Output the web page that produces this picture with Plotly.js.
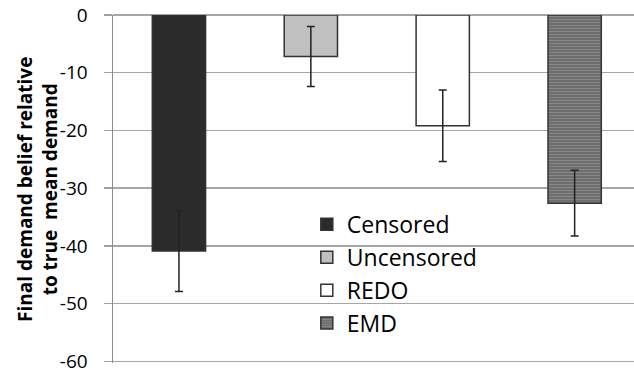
<!DOCTYPE html>
<html>
<head>
<meta charset="utf-8">
<script src="https://cdn.plot.ly/plotly-3.0.1.min.js"></script>
<style>html,body{margin:0;padding:0;background:#fff;overflow:hidden;}</style>
</head>
<body>
<div id="chart" style="width:634px;height:373px;"></div>
<script>
const categories = ["Censored", "Uncensored", "REDO", "EMD"];
const values = [-40.9, -7.2, -19.2, -32.6];
const errors = [7.0, 5.2, 6.2, 5.7];
const yTicks = [0, -10, -20, -30, -40, -50, -60];
const yTitle = "Final demand belief relative<br>to true  mean demand";

const fills = ["#2b2b2b", "#c0c0c0", "#ffffff", "#7c7c7c"];

const traces = categories.map((c, i) => {
  const t = {
    type: "bar",
    name: c,
    x: [i],
    y: [values[i]],
    width: 0.404,
    legendgroup: c,
    marker: {
      color: fills[i],
      line: {color: "#333333", width: 1.5}
    },
    error_y: {type: "data", array: [errors[i]], visible: true, color: "#222222", thickness: 1.5, width: 4}
  };
  if (c === "EMD") {
    t.marker.pattern = {shape: "-", fgcolor: "#a0a0a0", bgcolor: "#6e6e6e", size: 3, solidity: 0.35, fillmode: "overlay"};
  }
  return t;
});

const layout = {
  width: 634,
  height: 373,
  margin: {l: 113, r: 0, t: 15, b: 10},
  paper_bgcolor: "#ffffff",
  plot_bgcolor: "#ffffff",
  showlegend: true,
  barmode: "overlay",
  font: {family: "Open Sans, sans-serif", color: "#000000"},
  legend: {
    x: 0.372, xanchor: "left",
    y: 0.46, yanchor: "top",
    font: {size: 23, family: "Open Sans, sans-serif", color: "#000"},
    traceorder: "grouped",
    tracegroupgap: 0,
    bgcolor: "rgba(0,0,0,0)"
  },
  xaxis: {
    range: [-0.5, 3.45],
    showticklabels: false,
    ticks: "",
    showgrid: false,
    zeroline: false,
    showline: false,
    fixedrange: true
  },
  yaxis: {
    range: [-60.3, 0],
    tickvals: yTicks,
    ticktext: yTicks.map(String),
    ticks: "outside",
    ticklen: 8,
    tickwidth: 1.5,
    tickcolor: "#a0a0a0",
    tickfont: {size: 19, family: "Open Sans, sans-serif", color: "#000"},
    ticklabelstandoff: 12,
    ticklabeloverflow: "allow",
    showgrid: true,
    gridcolor: "#a6a6a6",
    gridwidth: 1.5,
    zeroline: true,
    zerolinecolor: "#a6a6a6",
    zerolinewidth: 1.5,
    showline: true,
    linecolor: "#8c8c8c",
    linewidth: 1.5
  },
  annotations: [{
    text: yTitle,
    xref: "paper", yref: "paper",
    x: -0.146, y: 0.5,
    xanchor: "center", yanchor: "middle",
    textangle: -90,
    showarrow: false,
    align: "center",
    font: {size: 19, family: "Open Sans, sans-serif", color: "#000", weight: "bold"}
  }]
};

Plotly.newPlot("chart", traces, layout, {displayModeBar: false, staticPlot: true});
</script>
</body>
</html>
